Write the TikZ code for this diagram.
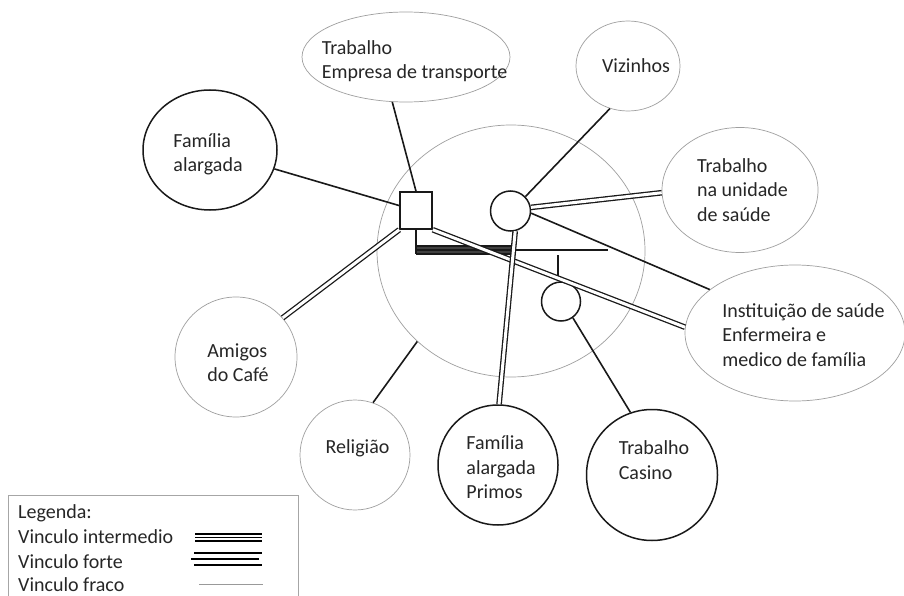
\documentclass[tikz,border=0pt]{standalone}
\usepackage{fontspec}
\setmainfont{Carlito}
\usetikzlibrary{shapes.geometric}
\begin{document}
\begin{tikzpicture}[x=1pt,y=1pt,
  thinell/.style={ellipse, draw=gray!75, line width=0.7pt, inner sep=0pt},
  thickell/.style={ellipse, draw=black!90, line width=1.5pt, inner sep=0pt},
  txt/.style={font=\fontsize{20}{24.5}\selectfont, align=left, inner sep=0pt, text=black!85},
  single/.style={line width=1.6pt, draw=black!90},
  dbl/.style={line width=1.3pt, draw=black!90, double=white, double distance=3pt},
  geno/.style={draw=black!90, line width=1.5pt, inner sep=0pt, fill=white},
  bandline/.style={draw=black!90, line width=1.2pt},
]
\useasboundingbox (0,0) rectangle (904,-596);
\fill[white] (0,0) rectangle (904,-596);

% outer ecomap nodes
\node[thinell, minimum width=268, minimum height=252] (big) at (511,-251) {};
\node[thinell, minimum width=208, minimum height=90,
  label={[txt,xshift=8.5,yshift=-4]center:{Trabalho\\Empresa de transporte}}] (emp) at (406,-57) {};
\node[thinell, minimum width=104, minimum height=90,
  label={[txt,xshift=8]center:{Vizinhos}}] (viz) at (628,-66) {};
\node[thickell, minimum width=134, minimum height=120,
  label={[txt,xshift=-2,yshift=-4.5]center:{Família\\alargada}}] (fam) at (210,-150) {};
\node[thinell, minimum width=156, minimum height=125,
  label={[txt,xshift=2.5]center:{Trabalho\\na unidade\\de saúde}}] (unid) at (740,-190) {};
\node[thinell, minimum width=220, minimum height=136,
  label={[txt,xshift=8.5,yshift=-2]center:{Instituição de saúde\\Enfermeira e\\medico de família}}] (inst) at (795,-333) {};
\node[thinell, minimum width=122, minimum height=120,
  label={[txt,xshift=2,yshift=-5.5]center:{Amigos\\do Café}}] (ami) at (236,-357) {};
\node[thinell, minimum width=110, minimum height=110,
  label={[txt,xshift=2.5,yshift=7]center:{Religião}}] (rel) at (355,-455) {};
\node[thickell, minimum width=120, minimum height=120,
  label={[txt,xshift=3,yshift=-2.5]center:{Família\\alargada\\Primos}}] (pri) at (498,-465) {};
\node[thickell, minimum width=131, minimum height=131,
  label={[txt,xshift=2,yshift=15]center:{Trabalho\\Casino}}] (cas) at (652,-475) {};

% genogram
\node[geno, rectangle, minimum width=32, minimum height=37] (sq) at (416,-210.5) {};
\node[geno, circle, minimum size=40] (c1) at (510.5,-211) {};
\node[geno, circle, minimum size=39] (c2) at (561,-301.5) {};

\fill[gray!50!black] (sq.south |- 0,-246) rectangle (c1.south |- 0,-254);
\draw[bandline] (sq.south) -- (sq.south |- 0,-254);
\draw[bandline] (sq.south |- 0,-246) -- (c1.south |- 0,-246);
\draw[bandline] (sq.south |- 0,-254) -- (c1.south |- 0,-254);
\coordinate (hend) at (608,-250);
\draw[bandline] (sq.south |- 0,-250) -- (hend);
\coordinate (kid) at (558,-255);
\draw[bandline] (kid) -- (kid |- c2.north);

% connectors
\draw[single] (sq) -- (fam);
\draw[single] (sq.north) -- (emp.253);
\draw[dbl] (sq.south west) -- (ami.40);
\draw[dbl] (sq.south east) -- (inst.177);
\draw[single] (c1.44) -- (viz.247);
\draw[dbl] (c1.10) -- (unid.182);
\draw[single] (c1.-6) -- (inst.153);
\draw[dbl] (c1.-77) -- (pri.89);
\draw[single] (c2.-54) -- (cas.109);
\draw[single] (big.224) -- (rel.71);

% legend
\draw[gray!70, line width=0.7pt] (8,-495) rectangle (298,-610);
\node[txt, anchor=west] (lg0) at (18,-513) {Legenda:};
\node[txt, anchor=west] (lg1) at (18,-537) {Vinculo intermedio};
\node[txt, anchor=west] (lg2) at (18,-562) {Vinculo forte};
\node[txt, anchor=west] (lg3) at (18,-585) {Vinculo fraco};
\draw[line width=1.3pt] (195,-534) -- (262,-534);
\draw[line width=1.3pt] (195,-537.5) -- (262,-537.5);
\draw[line width=1.3pt] (195,-541) -- (262,-541);
\draw[line width=1.3pt] (194,-553) -- (262,-553);
\draw[line width=1.3pt] (191,-559) -- (259,-559);
\draw[line width=1.3pt] (194,-565) -- (262,-565);
\draw[gray!80, line width=1pt] (199,-584) -- (263,-584);
\end{tikzpicture}
\end{document}
